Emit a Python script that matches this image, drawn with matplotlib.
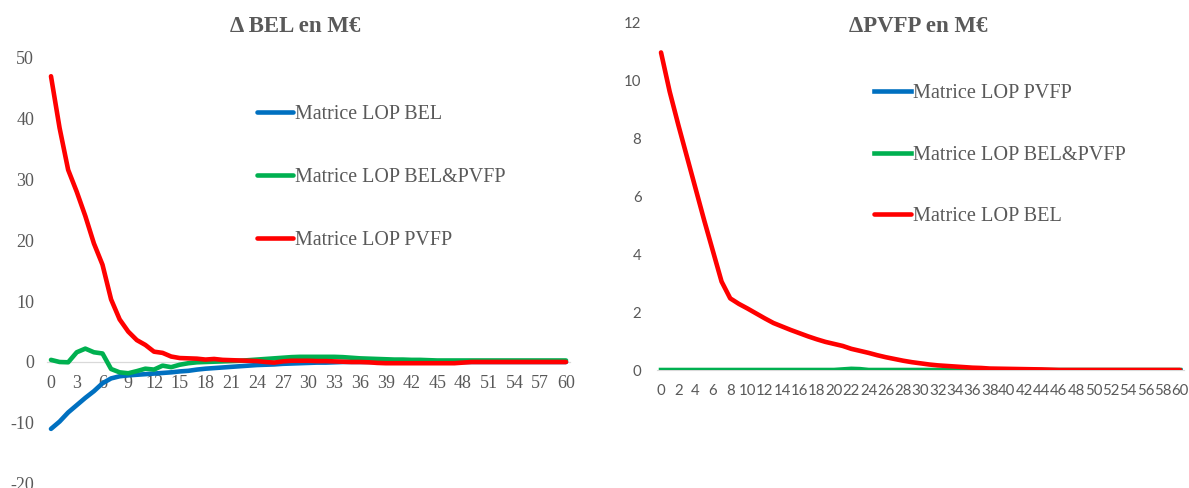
import matplotlib
matplotlib.use("Agg")
import matplotlib.pyplot as plt
import numpy as np

plt.rcParams["axes.unicode_minus"] = False

# ---------------- data ----------------
x_years = list(range(61))

left_title = "Δ BEL en M€"
left_labels = ["Matrice LOP BEL", "Matrice LOP BEL&PVFP", "Matrice LOP PVFP"]
left_bel = [-11.0, -9.8, -8.3, -7.1, -5.9, -4.8, -3.5, -2.7, -2.35, -2.2,
            -2.1, -2.0, -1.9, -1.8, -1.7, -1.55, -1.45, -1.25, -1.1, -1.0,
            -0.9, -0.8, -0.7, -0.6, -0.5, -0.45, -0.4, -0.3, -0.25, -0.2,
            -0.15, -0.1, -0.1, -0.05, 0.0, 0.0, 0.0, 0.0, 0.0, 0.0,
            0.0, 0.0, 0.0, 0.0, 0.0, 0.0, 0.0, 0.0, 0.0, 0.0,
            0.0, 0.0, 0.0, 0.0, 0.0, 0.0, 0.0, 0.0, 0.0, 0.0, 0.0]
left_belpvfp = [0.35, 0.0, -0.05, 1.6, 2.2, 1.6, 1.4, -1.15, -1.7, -1.85,
                -1.5, -1.1, -1.25, -0.6, -0.85, -0.45, -0.2, -0.05, 0.0, 0.05,
                0.1, 0.15, 0.2, 0.3, 0.4, 0.5, 0.6, 0.7, 0.8, 0.85,
                0.85, 0.85, 0.85, 0.85, 0.8, 0.7, 0.6, 0.55, 0.5, 0.45,
                0.4, 0.4, 0.35, 0.35, 0.3, 0.25, 0.25, 0.25, 0.25, 0.25,
                0.25, 0.25, 0.25, 0.25, 0.25, 0.25, 0.25, 0.25, 0.25, 0.25, 0.25]
left_pvfp = [47.0, 38.5, 31.6, 28.0, 24.0, 19.5, 16.0, 10.3, 7.0, 5.0,
             3.6, 2.8, 1.7, 1.5, 0.9, 0.65, 0.6, 0.55, 0.4, 0.5,
             0.35, 0.3, 0.25, 0.2, 0.15, 0.0, -0.1, 0.1, 0.2, 0.2,
             0.2, 0.15, 0.15, 0.1, 0.05, 0.0, 0.0, -0.05, -0.15, -0.2,
             -0.2, -0.2, -0.2, -0.2, -0.2, -0.2, -0.2, -0.2, -0.1, 0.0,
             0.0, 0.0, 0.0, 0.0, 0.0, 0.0, 0.0, 0.0, 0.0, 0.0, 0.0]
left_yticks = [-20, -10, 0, 10, 20, 30, 40, 50]
left_xticks = list(range(0, 61, 3))

right_title = "ΔPVFP en M€"
right_labels = ["Matrice LOP PVFP", "Matrice LOP BEL&PVFP", "Matrice LOP BEL"]
right_pvfp = [0.0] * 61
right_belpvfp = [0.0] * 21 + [0.02, 0.04, 0.03] + [0.0] * 37
right_bel = [10.95, 9.6, 8.45, 7.35, 6.25, 5.15, 4.1, 3.05, 2.47, 2.28,
             2.12, 1.95, 1.78, 1.62, 1.5, 1.38, 1.27, 1.16, 1.06, 0.97,
             0.9, 0.83, 0.73, 0.66, 0.59, 0.51, 0.44, 0.38, 0.32, 0.27,
             0.23, 0.19, 0.16, 0.14, 0.12, 0.1, 0.08, 0.07, 0.05, 0.045,
             0.04, 0.035, 0.03, 0.025, 0.02, 0.01, 0.0, 0.0, 0.0, 0.0,
             0.0, 0.0, 0.0, 0.0, 0.0, 0.0, 0.0, 0.0, 0.0, 0.0, 0.0]
right_yticks = [0, 2, 4, 6, 8, 10, 12]
right_xticks = list(range(0, 61, 2))

BLUE = "#0070C0"
GREEN = "#00B050"
RED = "#FF0000"
GRAY = "#595959"
AXIS = "#D9D9D9"
LW = 3.3

W, H = 1189, 488
fig = plt.figure(figsize=(W / 100, H / 100), dpi=100)

def fx(px):
    return px / W

def fy(py):
    return 1 - py / H

SERIF = "Liberation Serif"

# ---------------- left chart ----------------
l0, l1 = 46.7, 570.3
t0, b0 = 58.0, 483.6
axL = fig.add_axes([fx(l0), fy(b0), fx(l1 - l0), (b0 - t0) / H])
axL.plot(x_years, left_bel, color=BLUE, lw=LW, zorder=3, solid_capstyle="round", label=left_labels[0])
axL.plot(x_years, left_belpvfp, color=GREEN, lw=LW, zorder=3, solid_capstyle="round", label=left_labels[1])
axL.plot(x_years, left_pvfp, color=RED, lw=LW, zorder=3, solid_capstyle="round", label=left_labels[2])
axL.set_xlim(-0.5, 60.5)
axL.set_ylim(-20, 50)
for s in ["left", "right", "top"]:
    axL.spines[s].set_visible(False)
axL.spines["bottom"].set_position(("data", 0))
axL.spines["bottom"].set_color(AXIS)
axL.spines["bottom"].set_linewidth(0.9)
axL.set_xticks(left_xticks)
axL.set_yticks(left_yticks)
axL.tick_params(axis="x", length=0, pad=9, labelsize=13, labelcolor=GRAY)
axL.tick_params(axis="y", length=0, pad=9, labelsize=13, labelcolor=GRAY)
for lab in axL.get_xticklabels() + axL.get_yticklabels():
    lab.set_fontfamily(SERIF)
fig.text(fx(295), fy(26), left_title, ha="center", va="center", fontsize=16.5,
         fontweight="bold", family=SERIF, color=GRAY)
legL = axL.legend(loc="center left", bbox_to_anchor=(fx(257), fy(177.5)),
                  bbox_transform=fig.transFigure, frameon=False,
                  prop={"family": SERIF, "size": 14.4}, labelcolor=GRAY,
                  handlelength=1.8, handletextpad=0.1, labelspacing=2.22,
                  borderpad=0, borderaxespad=0)

# ---------------- right chart ----------------
r0, r1 = 656.7, 1184.3
t1, b1 = 22.0, 370.0
axR = fig.add_axes([fx(r0), fy(b1), fx(r1 - r0), (b1 - t1) / H])
axR.plot(x_years, right_pvfp, color=BLUE, lw=LW, zorder=3, label=right_labels[0])
axR.plot(x_years, right_belpvfp, color=GREEN, lw=LW, zorder=3, label=right_labels[1])
axR.plot(x_years, right_bel, color=RED, lw=LW, zorder=3, solid_capstyle="round", label=right_labels[2])
axR.set_xlim(-0.5, 60.5)
axR.set_ylim(0, 12)
for s in ["left", "right", "top"]:
    axR.spines[s].set_visible(False)
axR.spines["bottom"].set_color(AXIS)
axR.set_xticks(right_xticks)
axR.set_yticks(right_yticks)
axR.tick_params(axis="x", length=0, pad=10, labelsize=10.8, labelcolor=GRAY)
axR.tick_params(axis="y", length=0, pad=11, labelsize=10.8, labelcolor=GRAY)
for lab in axR.get_xticklabels() + axR.get_yticklabels():
    lab.set_fontfamily("Lato")
fig.text(fx(918), fy(26), right_title, ha="center", va="center", fontsize=16.5,
         fontweight="bold", family=SERIF, color=GRAY)
legR = axR.legend(loc="center left", bbox_to_anchor=(fx(874), fy(155)),
                  bbox_transform=fig.transFigure, frameon=False,
                  prop={"family": SERIF, "size": 14.6}, labelcolor=GRAY,
                  handlelength=1.8, handletextpad=0.1, labelspacing=2.1,
                  borderpad=0, borderaxespad=0)

fig.savefig("out.png", dpi=100)
